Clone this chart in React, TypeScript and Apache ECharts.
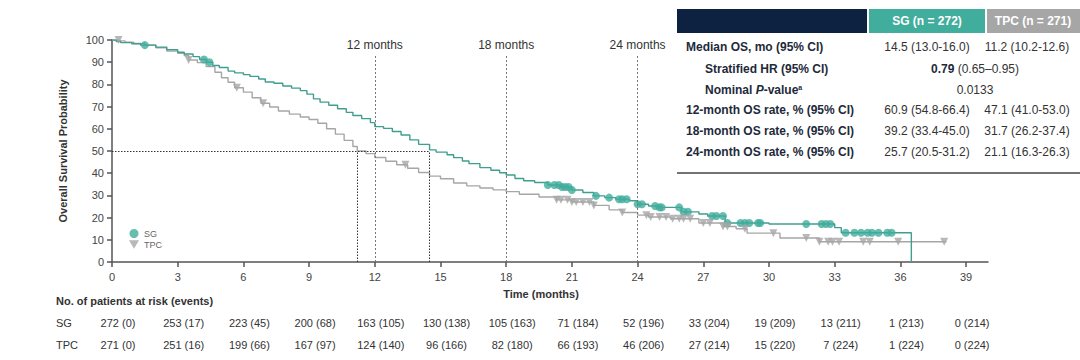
import { useEffect, useRef } from 'react';
import * as echarts from 'echarts';

// ---- data ----
const xTickValues = [0, 3, 6, 9, 12, 15, 18, 21, 24, 27, 30, 33, 36, 39];

// Kaplan-Meier step points [month, survival %] (value after the drop at that time)
const sgCurve: [number, number][] = [
  [0, 100], [0.2, 99.3], [0.4, 98.8], [0.9, 98.3], [1.3, 97.7], [2.0, 96.8], [2.5, 95.6],
  [3.0, 94.5], [3.3, 93.7], [3.7, 92.5], [4.0, 91.2], [4.3, 90.0], [4.6, 88.5], [4.9, 87.6],
  [5.3, 86.0], [5.6, 85.2], [6.0, 84.4], [6.3, 83.6], [6.7, 82.4], [7.0, 81.1], [7.4, 80.5],
  [7.8, 79.3], [8.2, 78.3], [8.6, 77.2], [8.9, 75.6], [9.2, 73.5], [9.5, 72.0], [9.9, 70.6],
  [10.3, 69.0], [10.7, 67.4], [11.0, 66.0], [11.4, 64.6], [11.8, 62.8], [12.0, 61.0],
  [12.4, 60.2], [12.8, 58.8], [13.2, 57.2], [13.6, 55.0], [14.0, 53.0], [14.5, 50.5],
  [14.8, 49.5], [15.3, 48.3], [15.6, 47.0], [16.0, 45.5], [16.3, 44.3], [16.8, 42.5],
  [17.3, 41.3], [17.7, 40.2], [18.0, 39.2], [18.4, 37.6], [18.8, 36.6], [19.3, 35.8],
  [19.9, 34.7], [20.5, 33.8], [21.0, 32.4], [21.5, 31.3], [22.0, 29.8], [22.5, 29.0],
  [23.0, 28.3], [23.6, 27.6], [24.0, 26.0], [24.5, 25.2], [25.0, 24.6], [26.0, 22.6],
  [26.8, 21.6], [27.2, 20.7], [28.0, 17.6], [30.0, 17.1], [33.0, 15.5], [33.3, 13.2],
  [36.5, 0],
];

const tpcCurve: [number, number][] = [
  [0, 100], [0.35, 99.6], [0.6, 99.0], [1.0, 98.4], [1.5, 97.7], [2.0, 96.5], [2.5, 95.0],
  [3.0, 94.0], [3.3, 93.0], [3.5, 91.0], [3.9, 89.8], [4.3, 88.0], [4.7, 85.5], [5.0, 83.0],
  [5.3, 81.0], [5.6, 78.5], [6.0, 76.5], [6.4, 74.0], [6.8, 71.5], [7.2, 69.8], [7.6, 68.0],
  [8.1, 66.6], [8.6, 65.3], [9.0, 64.2], [9.4, 62.5], [9.8, 60.0], [10.2, 57.6], [10.6, 54.8],
  [11.0, 52.0], [11.2, 50.0], [11.6, 48.8], [12.0, 47.1], [12.5, 45.4], [13.0, 43.8],
  [13.5, 42.2], [14.0, 40.3], [14.5, 38.7], [15.0, 37.5], [15.6, 35.6], [16.2, 34.3],
  [16.8, 33.3], [17.4, 32.5], [18.0, 31.7], [18.6, 30.5], [19.5, 29.3], [20.3, 28.0],
  [21.0, 27.0], [22.0, 25.5], [22.7, 23.5], [23.3, 22.3], [24.0, 21.1], [24.5, 20.3],
  [25.5, 19.5], [26.8, 17.6], [27.9, 16.0], [28.5, 15.0], [29.0, 13.0], [30.5, 10.8],
  [32.3, 9.1], [38.1, 9.1],
];

// censoring times (months)
const sgCensor = [
  1.5, 4.2, 4.45, 19.9, 20.2, 20.4, 20.55, 20.7, 20.85, 21.0, 22.1, 22.7, 23.15, 23.3, 23.5,
  24.0, 24.2, 24.8, 25.0, 25.1, 25.9, 26.1, 26.3, 27.4, 27.6, 27.9, 28.1, 28.7, 28.9, 29.1,
  29.5, 29.6, 31.7, 32.4, 32.6, 32.8, 33.5, 33.9, 34.2, 34.5, 34.7, 35.0, 35.4, 35.6,
];
const tpcCensor = [
  0.3, 3.5, 5.7, 6.9, 13.4, 20.3, 20.5, 20.8, 21.0, 21.2, 21.5, 21.8, 22.0, 23.3, 24.4, 24.6,
  25.0, 25.3, 25.6, 25.9, 26.1, 26.4, 27.0, 27.3, 27.9, 28.1, 28.9, 30.2, 31.7, 32.3, 32.7,
  32.9, 33.2, 34.3, 34.6, 35.9, 38.0,
];

const milestoneMonths = [12, 18, 24];
const medianSG = 14.5;
const medianTPC = 11.2;

const riskMonths = [0, 3, 6, 9, 12, 15, 18, 21, 24, 27, 30, 33, 36, 39];
const sgAtRisk = ['272 (0)', '253 (17)', '223 (45)', '200 (68)', '163 (105)', '130 (138)', '105 (163)',
  '71 (184)', '52 (196)', '33 (204)', '19 (209)', '13 (211)', '1 (213)', '0 (214)'];
const tpcAtRisk = ['271 (0)', '251 (16)', '199 (66)', '167 (97)', '124 (140)', '96 (166)', '82 (180)',
  '66 (193)', '46 (206)', '27 (214)', '15 (220)', '7 (224)', '1 (224)', '0 (224)'];

const tableLabels = ['Median OS, mo (95% CI)', 'Stratified HR (95% CI)', 'Nominal {i|P}-value{s|a}',
  '12-month OS rate, % (95% CI)', '18-month OS rate, % (95% CI)', '24-month OS rate, % (95% CI)'];
const tableSG = ['14.5 (13.0-16.0)', '', '', '60.9 (54.8-66.4)', '39.2 (33.4-45.0)', '25.7 (20.5-31.2)'];
const tableTPC = ['11.2 (10.2-12.6)', '', '', '47.1 (41.0-53.0)', '31.7 (26.2-37.4)', '21.1 (16.3-26.3)'];
const tableBoth = ['', '{b|0.79} (0.65–0.95)', '0.0133', '', '', ''];

const TEAL = '#41ad9c';
const TEAL_LINE = '#3f9e8e';
const GRAY = '#a6a6a6';
const NAVY = '#0d2240';
const FONT = "'Liberation Sans', Arial, sans-serif";

function survAt(curve: [number, number][], t: number) {
  let v = curve[0][1];
  for (const [x, y] of curve) {
    if (x <= t) v = y; else break;
  }
  return v;
}

export default function App() {
  const ref = useRef<HTMLDivElement>(null);
  useEffect(() => {
    if (!ref.current) return;
    const chart = echarts.init(ref.current, undefined, { renderer: 'svg' });

    const option: any = {
      animation: false,
      textStyle: { fontFamily: FONT },
      grid: { left: 112, right: 92, top: 40, bottom: 98 },
      legend: {
        data: [
          { name: 'SG', icon: 'circle' },
          { name: 'TPC', icon: 'path://M0,0L10,0L5,8.66Z' },
        ],
        orient: 'vertical', left: 124, top: 224, itemGap: 2,
        itemWidth: 10, itemHeight: 9, textStyle: { fontSize: 9, color: '#666', fontFamily: FONT },
      },
      xAxis: {
        type: 'value', min: 0, max: 40,
        axisLine: { lineStyle: { color: '#555', width: 1.5 } },
        axisTick: { length: 5, lineStyle: { color: '#555', width: 1.5 }, customValues: xTickValues },
        axisLabel: { color: '#444', fontSize: 11, margin: 9, customValues: xTickValues },
        splitLine: { show: false },
      },
      yAxis: {
        type: 'value', min: 0, max: 100, interval: 10,
        axisLine: { show: true, lineStyle: { color: '#555', width: 1.5 } },
        axisTick: { show: true, length: 5, lineStyle: { color: '#555', width: 1.5 } },
        axisLabel: { color: '#444', fontSize: 11, margin: 8 },
        splitLine: { show: false },
      },
      series: [
        {
          name: 'SG curve', type: 'line', step: 'end', data: sgCurve, showSymbol: false, symbol: 'none',
          lineStyle: { color: TEAL_LINE, width: 1.4 }, z: 3,
          markLine: {
            silent: true, symbol: ['none', 'none'],
            lineStyle: { color: '#777', type: [2, 2], width: 1 },
            label: { show: true, position: 'end', formatter: '{b}', color: '#333', fontSize: 12, distance: 3 },
            data: milestoneMonths.map((m) => [
              { name: `${m} months`, coord: [m, 0] },
              { coord: [m, 93.5] },
            ]),
          },
        },
        {
          name: 'TPC curve', type: 'line', step: 'end', data: tpcCurve, showSymbol: false, symbol: 'none',
          lineStyle: { color: GRAY, width: 1.4 }, z: 2,
          markLine: {
            silent: true, symbol: ['none', 'none'],
            lineStyle: { color: '#333', type: [1.5, 1.5], width: 1 },
            label: { show: false },
            data: [
              [{ coord: [0, 50] }, { coord: [medianSG, 50] }],
              [{ coord: [medianTPC, 0] }, { coord: [medianTPC, 50] }],
              [{ coord: [medianSG, 0] }, { coord: [medianSG, 50] }],
            ],
          },
        },
        {
          name: 'SG', type: 'scatter', symbol: 'circle', symbolSize: 8,
          itemStyle: { color: TEAL }, z: 4,
          data: sgCensor.map((t) => [t, survAt(sgCurve, t)]),
        },
        {
          name: 'TPC', type: 'scatter', symbol: 'triangle', symbolSize: 8, symbolRotate: 180,
          itemStyle: { color: GRAY }, z: 4,
          data: tpcCensor.map((t) => [t, survAt(tpcCurve, t)]),
        },
      ],
    };
    chart.setOption(option);

    const graphics: any[] = [];
    // y axis title
    graphics.push({
      type: 'text', x: 63, y: 151, rotation: Math.PI / 2,
      style: { text: 'Overall Survival Probability', font: `bold 11px ${FONT}`, fill: '#333', align: 'center', verticalAlign: 'middle' },
    });
    graphics.push({
      type: 'text', x: 541, y: 294,
      style: { text: 'Time (months)', font: `bold 11px ${FONT}`, fill: '#333', align: 'center', verticalAlign: 'middle' },
    });
    // risk table
    graphics.push({
      type: 'text', x: 56, y: 301,
      style: { text: 'No. of patients at risk (events)', font: `bold 11px ${FONT}`, fill: '#333', verticalAlign: 'middle' },
    });
    graphics.push({ type: 'text', x: 56, y: 323, style: { text: 'SG', font: `11px ${FONT}`, fill: '#333', verticalAlign: 'middle' } });
    graphics.push({ type: 'text', x: 56, y: 345, style: { text: 'TPC', font: `11px ${FONT}`, fill: '#333', verticalAlign: 'middle' } });
    riskMonths.forEach((m, i) => {
      const px = (chart.convertToPixel({ xAxisIndex: 0 }, m) as number) + 6;
      graphics.push({ type: 'text', x: px, y: 323, style: { text: sgAtRisk[i], font: `11px ${FONT}`, fill: '#333', align: 'center', verticalAlign: 'middle' } });
      graphics.push({ type: 'text', x: px, y: 345, style: { text: tpcAtRisk[i], font: `11px ${FONT}`, fill: '#333', align: 'center', verticalAlign: 'middle' } });
    });
    // summary table
    graphics.push({ type: 'rect', shape: { x: 677, y: 9, width: 190, height: 24 }, style: { fill: NAVY } });
    graphics.push({ type: 'rect', shape: { x: 869, y: 9, width: 116, height: 24 }, style: { fill: TEAL } });
    graphics.push({ type: 'rect', shape: { x: 987, y: 9, width: 93, height: 24 }, style: { fill: GRAY } });
    graphics.push({ type: 'text', x: 927, y: 21, style: { text: 'SG (n = 272)', font: `bold 12px ${FONT}`, fill: '#fff', align: 'center', verticalAlign: 'middle' } });
    graphics.push({ type: 'text', x: 1033, y: 21, style: { text: 'TPC (n = 271)', font: `bold 12px ${FONT}`, fill: '#fff', align: 'center', verticalAlign: 'middle' } });
    const rowY = [47, 69, 90, 110, 131, 152];
    tableLabels.forEach((lab, i) => {
      const indent = i === 1 || i === 2 ? 705 : 686;
      graphics.push({
        type: 'text', x: indent, y: rowY[i],
        style: {
          text: lab, font: `bold 12px ${FONT}`, fill: '#1e2a3a', verticalAlign: 'middle',
          rich: {
            i: { fontStyle: 'italic', fontWeight: 'bold', fontSize: 12, fontFamily: FONT, fill: '#1e2a3a' },
            s: { fontSize: 7, fontWeight: 'bold', fontFamily: FONT, fill: '#1e2a3a', verticalAlign: 'top', padding: [0, 0, 5, 0] },
          },
        },
      });
      if (tableSG[i]) graphics.push({ type: 'text', x: 927, y: rowY[i], style: { text: tableSG[i], font: `12px ${FONT}`, fill: '#333', align: 'center', verticalAlign: 'middle' } });
      if (tableTPC[i]) graphics.push({ type: 'text', x: 1027, y: rowY[i], style: { text: tableTPC[i], font: `12px ${FONT}`, fill: '#333', align: 'center', verticalAlign: 'middle' } });
      if (tableBoth[i]) graphics.push({
        type: 'text', x: 975, y: rowY[i],
        style: {
          text: tableBoth[i], font: `12px ${FONT}`, fill: '#333', align: 'center', verticalAlign: 'middle',
          rich: { b: { fontWeight: 'bold', fontSize: 12, fontFamily: FONT, fill: '#1e2a3a' } },
        },
      });
    });
    graphics.push({ type: 'line', shape: { x1: 677, y1: 173, x2: 1080, y2: 173 }, style: { stroke: '#444', lineWidth: 1.5 } });

    chart.setOption({ graphic: graphics });
    return () => chart.dispose();
  }, []);
  return <div ref={ref} style={{ position: 'fixed', left: 0, top: 0, width: 1080, height: 360, background: '#fff' }} />;
}
